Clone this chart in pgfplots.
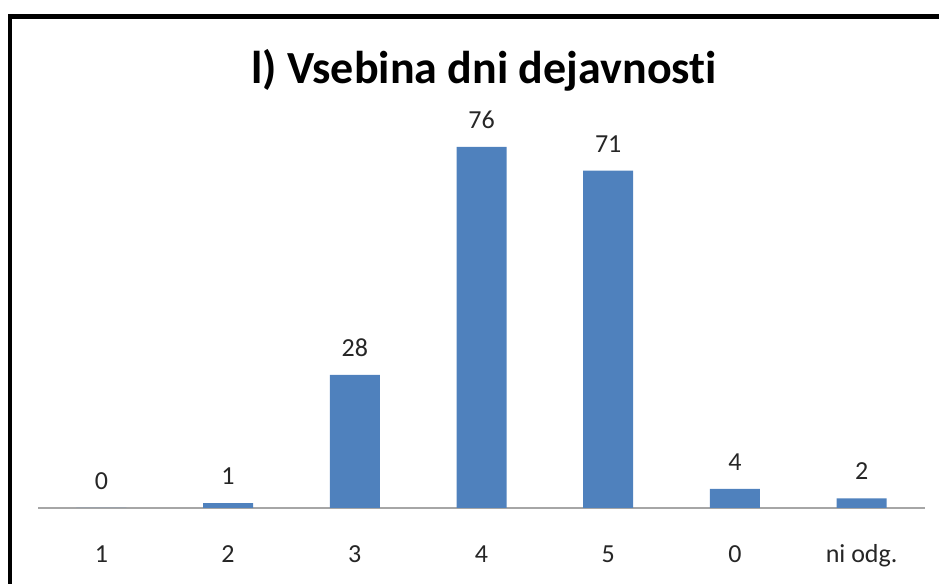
\documentclass[border=0pt]{standalone}
\usepackage{pgfplots}
\pgfplotsset{compat=1.18}
\usepackage{fontspec}
\setmainfont{Carlito}[Ligatures=NoCommon]
\definecolor{barblue}{HTML}{4F81BD}
\begin{document}
\begin{tikzpicture}
\useasboundingbox (0,0) rectangle (704.25pt,438pt);
\draw[line width=3.5pt, line cap=rect] (7.5pt,-20pt) -- (7.5pt,425.6pt) -- (760pt,425.6pt);
\node[anchor=base, font=\fontsize{34.5}{40}\selectfont\bfseries] at (363pt,375.5pt) {l) Vsebina dni dejavnosti};
\begin{axis}[
  at={(28.5pt,57pt)}, anchor=south west,
  scale only axis, width=665.25pt, height=270.75pt,
  xmin=-0.5, xmax=6.5, ymin=0, ymax=76,
  axis x line=bottom, axis y line=none,
  x axis line style={-, draw=gray!70, line width=1pt},
  xtick={0,1,2,3,4,5,6},
  xticklabels={1,2,3,4,5,0,ni odg.},
  xtick style={draw=none},
  xticklabel style={anchor=base, yshift=-36.5pt, font=\fontsize{19.5}{22}\selectfont, text=black!85},
  /pgf/number format/assume math mode=true,
  ybar, bar width=37.5pt,
  nodes near coords,
  every node near coord/.append style={anchor=base, yshift=14pt, font=\fontsize{19.5}{22}\selectfont, text=black!85},
  clip=false,
]
\addplot[fill=barblue, draw=none] coordinates {(0,0) (1,1) (2,28) (3,76) (4,71) (5,4) (6,2)};
\end{axis}
\end{tikzpicture}
\end{document}
